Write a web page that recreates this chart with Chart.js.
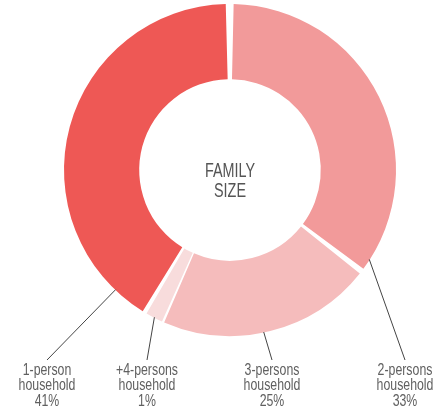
<!DOCTYPE html>
<html>
<head>
<meta charset="utf-8">
<script src="https://cdn.jsdelivr.net/npm/chart.js@4/dist/chart.umd.min.js"></script>
<style>
  html, body { margin: 0; padding: 0; background: #fff; }
  #wrap { width: 448px; height: 409px; position: relative; }
</style>
</head>
<body>
<div id="wrap"><canvas id="familyChart"></canvas></div>
<script>
// household categories, clockwise from the top
const categories = ['2-persons', '3-persons', '+4-persons', '1-person'];
const shares = [35.5, 21.2, 1.7, 41.6];           // arc sizes as drawn
const shareLabels = ['33%', '25%', '1%', '41%'];  // printed percentages
const colours = ['#f29a9a', '#f5bcbc', '#f8dcdc', '#ee5855'];

// where each leader line leaves its slice (fraction along the slice) and where its label sits
const leaderAt = [0.96, 0.53, 0.5, 0.09];
const labelX = [405, 272, 147, 47];

const FONT = "'Liberation Sans', Arial, sans-serif";

// condensed look: squeeze text horizontally around its centre
function narrowText(ctx, text, x, y, squeeze) {
    ctx.save();
    ctx.translate(x, y);
    ctx.scale(squeeze, 1);
    ctx.fillText(text, 0, 0);
    ctx.restore();
}

const calloutPlugin = {
    id: 'callouts',
    afterDatasetsDraw(chart) {
        const ctx = chart.ctx;
        const arcs = chart.getDatasetMeta(0).data;
        ctx.save();
        ctx.textAlign = 'center';
        ctx.textBaseline = 'alphabetic';

        // centre title
        const c = arcs[0];
        ctx.fillStyle = '#555';
        ctx.font = '20px ' + FONT;
        narrowText(ctx, 'FAMILY', c.x, c.y + 7, 0.72);
        narrowText(ctx, 'SIZE', c.x, c.y + 27, 0.72);

        // leader lines and labels
        arcs.forEach((arc, i) => {
            const a = arc.startAngle + (arc.endAngle - arc.startAngle) * leaderAt[i];
            const r = arc.outerRadius + 2;
            const x0 = arc.x + Math.cos(a) * r;
            const y0 = arc.y + Math.sin(a) * r;

            ctx.strokeStyle = '#444';
            ctx.lineWidth = 1;
            ctx.beginPath();
            ctx.moveTo(x0, y0);
            ctx.lineTo(labelX[i], 360);
            ctx.stroke();

            ctx.fillStyle = '#606060';
            ctx.font = '16px ' + FONT;
            narrowText(ctx, categories[i], labelX[i], 374.5, 0.77);
            narrowText(ctx, 'household', labelX[i], 390, 0.77);
            narrowText(ctx, shareLabels[i], labelX[i], 405.5, 0.77);
        });
        ctx.restore();
    }
};

new Chart(document.getElementById('familyChart'), {
    type: 'doughnut',
    data: {
        labels: categories,
        datasets: [{
            data: shares,
            backgroundColor: colours,
            borderWidth: 0,
            spacing: 5
        }]
    },
    options: {
        responsive: true,
        maintainAspectRatio: false,
        animation: false,
        cutout: '54%',
        layout: { padding: { left: 64, right: 52, top: 4, bottom: 73 } },
        plugins: {
            legend: { display: false },
            tooltip: { enabled: false }
        }
    },
    plugins: [calloutPlugin]
});
</script>
</body>
</html>
